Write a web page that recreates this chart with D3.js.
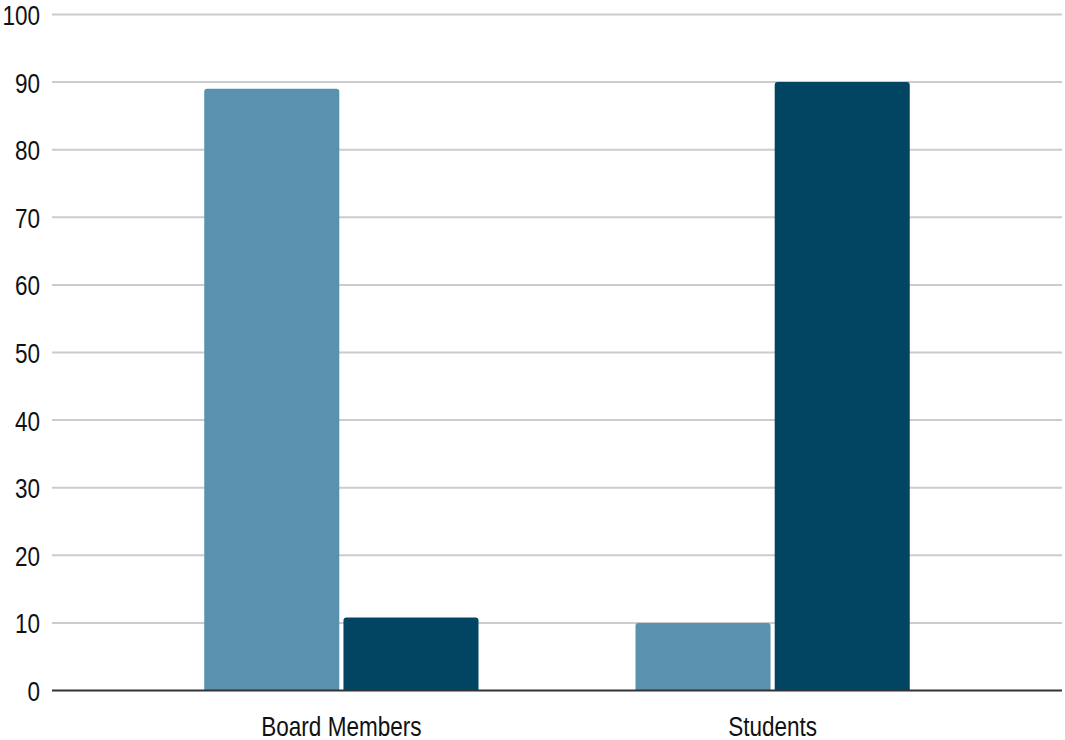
<!DOCTYPE html>
<html><head><meta charset="utf-8">
<script src="https://cdn.jsdelivr.net/npm/d3@7"></script>
<style>body{margin:0;background:#fff}</style>
</head><body>
<svg id="c" width="1065" height="740"></svg>
<script>
const categories = ["Board Members", "Students"];
const seriesNames = ["Series A", "Series B"];
const seriesA = [89, 10];
const seriesB = [10.8, 90];
const yTicks = [0,10,20,30,40,50,60,70,80,90,100];
const colors = ["#5991ae", "#014562"];

(function(){
const svg = d3.select("#c");
const mLeft = 52, mRight = 1062, mTop = 14.5, mBottom = 690.5;
const font = "'Liberation Sans', Arial, sans-serif";
const fs = 28.5, sx = 0.79;

const y = d3.scaleLinear().domain([0,100]).range([mBottom, mTop]);
const x0 = d3.scaleBand().domain(categories).range([mLeft, mRight]).paddingInner(0.364).paddingOuter(0.353);
const x1 = d3.scaleBand().domain(seriesNames).range([0, x0.bandwidth()]).paddingInner(0.03);

const data = categories.map((c,i)=>({cat:c, vals:[{s:seriesNames[0],v:seriesA[i],c:colors[0]},{s:seriesNames[1],v:seriesB[i],c:colors[1]}]}));

svg.append("g").selectAll("line").data(yTicks.filter(t=>t>0)).join("line")
  .attr("x1", mLeft).attr("x2", mRight)
  .attr("y1", d=>y(d)).attr("y2", d=>y(d))
  .attr("stroke", "#cccccc").attr("stroke-width", 2);

const yAxis = d3.axisLeft(y).tickValues(yTicks).tickSize(0).tickPadding(12);
const ya = svg.append("g").attr("transform", `translate(${mLeft},0)`).call(yAxis);
ya.select(".domain").remove();
ya.selectAll("text").attr("font-family", font).attr("font-size", fs).attr("fill", "#111")
  .attr("x", null).attr("dy", "0.35em").attr("transform", `translate(-12,0) scale(${sx},1)`);

function barPath(x, yTop, w, h, r) {
  r = Math.min(r, h, w/2);
  return `M${x},${yTop+h} V${yTop+r} Q${x},${yTop} ${x+r},${yTop} H${x+w-r} Q${x+w},${yTop} ${x+w},${yTop+r} V${yTop+h} Z`;
}
const g = svg.append("g");
data.forEach(d=>{
  g.selectAll(null).data(d.vals).join("path")
    .attr("d", v=>barPath(x0(d.cat)+x1(v.s), y(v.v), x1.bandwidth(), y(0)-y(v.v), 3))
    .attr("fill", v=>v.c);
});

svg.append("line").attr("x1", mLeft).attr("x2", mRight).attr("y1", y(0)).attr("y2", y(0))
  .attr("stroke", "#333").attr("stroke-width", 2);

const xAxis = d3.axisBottom(x0).tickSize(0).tickPadding(0);
const xa = svg.append("g").attr("transform", `translate(0,${y(0)})`).call(xAxis);
xa.select(".domain").remove();
xa.selectAll("text").attr("font-family", font).attr("font-size", fs).attr("fill", "#111")
  .attr("dy", null).attr("y", null).attr("transform", `translate(0,45.2) scale(${sx},1)`);
})();
</script>
</body></html>
